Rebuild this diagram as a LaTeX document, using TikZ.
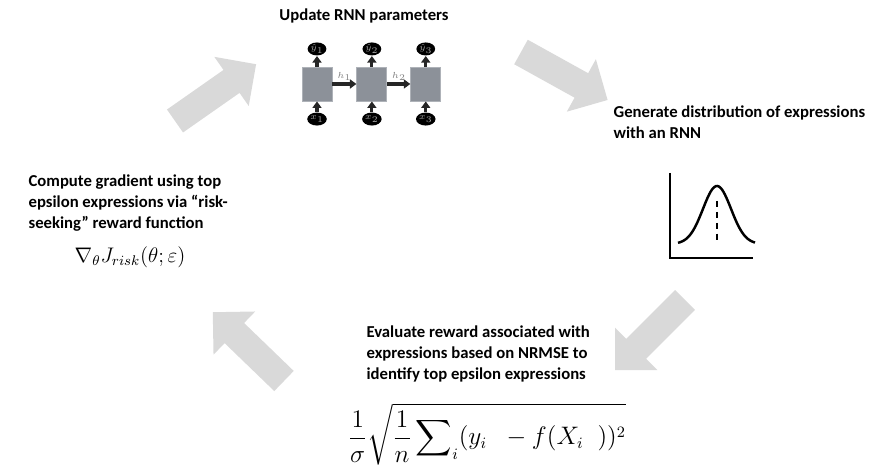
\documentclass[tikz,border=0pt]{standalone}
\usepackage[no-math]{fontspec}
\setmainfont{Carlito}
\usepackage{amsmath}
\usetikzlibrary{arrows.meta, shapes.geometric, positioning}
\definecolor{rnnGrey}{HTML}{8C9199}
\definecolor{rnnEdge}{HTML}{AEB2B8}
\definecolor{loopGrey}{HTML}{D9D9D9}
\definecolor{inkDark}{HTML}{262626}
\tikzset{
  % pixel-like units, y pointing down
  every picture/.append style = {line width=0.7pt},
  steptext/.style  = {font=\fontsize{9.5}{12.2}\selectfont\bfseries, align=left, inner sep=0pt},
  mathlbl/.style   = {inner sep=0pt, font=\fontsize{12}{14}\selectfont},
  mathbig/.style   = {inner sep=0pt, font=\fontsize{13.5}{16}\selectfont},
  curveline/.style = {black, line width=1.4pt},
}

\begin{document}
\begin{tikzpicture}[x=0.2mm, y=-0.2mm,
    cell/.style={rectangle, fill=rnnGrey, draw=rnnEdge, line width=0.5pt,
                 minimum width=6mm, minimum height=6.8mm, inner sep=0pt},
    token/.style={ellipse, fill=black, text=gray!70, minimum width=3.2mm,
                  minimum height=2.6mm, inner sep=0pt, font=\fontsize{3.5}{4}\selectfont},
    rnnarrow/.style={-{Triangle[length=1.3mm, width=1.8mm]}, inkDark, line width=1.8pt},
    bigarrow/.pic={\fill[loopGrey] (0,-14) -- (69,-14) -- (69,-30) -- (99,0)
                     -- (69,30) -- (69,14) -- (0,14) -- cycle;}]
  \useasboundingbox (0,0) rectangle (877,473);

  % loop arrows
  \pic[rotate=35]   at (175,121) {bigarrow};
  \pic[rotate=-29]  at (521,52)  {bigarrow};
  \pic[rotate=-135] at (685,300) {bigarrow};
  \pic[rotate=136]  at (284,381) {bigarrow};

  % step 1: update the RNN
  \node[steptext, anchor=base] (upd) at (364,21) {Update RNN parameters};
  \node[cell] (c1) at (317,84) {};
  \node[cell, right=4.8mm of c1] (c2) {};
  \node[cell, right=4.6mm of c2] (c3) {};
  \node[token, above=2.1mm of c1] (y1) {$\hat{y}_1$};
  \node[token, above=2.1mm of c2] (y2) {$\hat{y}_2$};
  \node[token, above=2.1mm of c3] (y3) {$\hat{y}_3$};
  \node[token, below=2.1mm of c1] (x1) {$x_1$};
  \node[token, below=2.1mm of c2] (x2) {$x_2$};
  \node[token, below=2.1mm of c3] (x3) {$x_3$};
  \draw[rnnarrow] (x1) -- (c1);
  \draw[rnnarrow] (x2) -- (c2);
  \draw[rnnarrow] (x3) -- (c3);
  \draw[rnnarrow] (c1) -- (y1);
  \draw[rnnarrow] (c2) -- (y2);
  \draw[rnnarrow] (c3) -- (y3);
  \draw[rnnarrow] (c1) -- node[above=0.3mm, inner sep=0pt, text=gray,
      font=\fontsize{3.5}{4}\selectfont] (h1) {$h_1$} (c2);
  \draw[rnnarrow] (c2) -- node[above=0.3mm, inner sep=0pt, text=gray,
      font=\fontsize{3.5}{4}\selectfont] (h2) {$h_2$} (c3);

  % step 2: sample from the RNN (anchor = baseline of last line)
  \node[steptext, anchor=base west] (gen) at (613,138.5)
      {Generate distribution of expressions\\with an RNN};
  \draw[curveline] (670,173) -- (670,258) -- (753,258);
  \draw[curveline, domain=678:755, samples=60, smooth]
      plot (\x, {244-58*exp(-((\x-717)/14)^2/2)});
  \draw[curveline, dash pattern=on 3.4pt off 2.8pt] (717,201) -- (717,240);

  % step 3: reward
  \node[steptext, anchor=base west] (eval) at (366,380)
      {Evaluate reward associated with\\expressions based on NRMSE to\\identify top epsilon expressions};
  \node[mathbig] (nrmse) at (487,434)
      {$\displaystyle\frac{1}{\sigma}\sqrt{\frac{1}{n}\sum\nolimits_i(y_i\;\;-f(X_i\;\;))^2}$};

  % step 4: gradient
  \node[steptext, anchor=base west] (grad) at (28,229)
      {Compute gradient using top\\epsilon expressions via “risk-\\seeking” reward function};
  \node[mathlbl] (risk) at (130,257) {$\nabla_\theta J_{risk}(\theta;\varepsilon)$};
\end{tikzpicture}
\end{document}
